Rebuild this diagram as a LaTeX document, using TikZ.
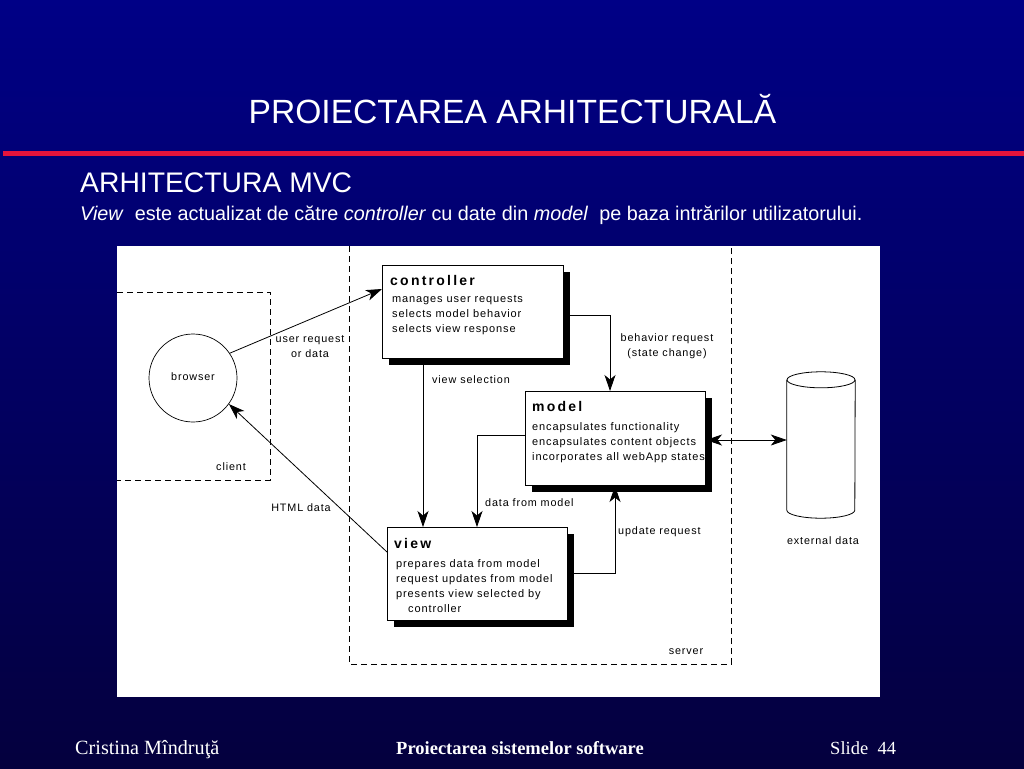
\documentclass[tikz,border=0pt]{standalone}
\usepackage{fontspec}
\setmainfont{Liberation Serif}
\newfontfamily\arial{Liberation Sans}
\newfontfamily\dg[LetterSpace=8]{Liberation Sans}
\newfontfamily\dgb[LetterSpace=16]{Liberation Sans Bold}
\usetikzlibrary{arrows.meta,calc,shadows}
\definecolor{navytop}{RGB}{0,0,134}
\definecolor{navybot}{RGB}{4,0,62}
\definecolor{redline}{RGB}{228,20,60}
\tikzset{
  mvcbox/.style={draw, fill=white, line width=1pt, anchor=north west, inner sep=0pt,
    drop shadow={shadow xshift=6pt, shadow yshift=-6pt, opacity=1, fill=black}},
  boxtitle/.style={anchor=west, inner sep=0pt, font=\fontsize{14}{15}\dgb},
  boxbody/.style={anchor=north west, inner sep=0pt, align=left, font=\fontsize{11}{15.2}\dg},
  lbl/.style={inner sep=0pt, font=\fontsize{10.8}{15}\dg, align=center},
  conn/.style={line width=0.8pt},
  tip/.tip={Stealth[length=16pt,width=11pt,inset=4.5pt]},
  arr/.style={conn, -tip},
  dashbox/.style={line width=1pt, dash pattern=on 6pt off 4pt},
}
\begin{document}
\begin{tikzpicture}[x=1pt,y=-1pt]
\useasboundingbox (0,0) rectangle (1024,768);
\shade[top color=navytop, bottom color=navybot] (0,0) rectangle (1024,768);
% header
\node[text=white, inner sep=0pt, anchor=base, font=\fontsize{33.6}{36}\arial] (title) at (512.5,123) {PROIECTAREA ARHITECTURALĂ};
\fill[redline] (3,150.5) rectangle (1024,156);
\node[text=white, inner sep=0pt, anchor=base west, font=\fontsize{28.3}{30}\arial] (sub) at (80,192) {ARHITECTURA MVC};
\node[text=white, inner sep=0pt, anchor=base west, font=\fontsize{19.8}{20}\arial] (desc) at (80,220)
  {\textit{View}\ \ este actualizat de către \textit{controller} cu date din \textit{model}\ \ pe baza intrărilor utilizatorului.};
% picture area
\fill[white] (117,246) rectangle (880,697);
% client region
\draw[dashbox] (117,292) -- (270,292) -- (270,480) -- (117,480);
\node[lbl, anchor=base] (clientlbl) at (231,470) {client};
% server region
\draw[dashbox] (349,246) -- (349,664) -- (731,664) -- (731,246);
\node[lbl, anchor=base] (serverlbl) at (686,654) {server};
% browser
\node[draw, circle, line width=0.7pt, minimum size=88pt, inner sep=0pt] (browser) at (193,378) {};
\node[lbl] (browserlbl) at (193,377) {browser};
% boxes
\node[mvcbox, minimum width=181pt, minimum height=93pt] (ctrl) at (382,265) {};
\node[boxtitle] (ctrlt) at (390,280.5) {controller};
\node[boxbody] (ctrlb) at (392,295) {manages user requests\\selects model behavior\\selects view response};
\node[mvcbox, minimum width=180pt, minimum height=94pt] (model) at (525,391) {};
\node[boxtitle] (modelt) at (532,406.5) {model};
\node[boxbody] (modelb) at (532,422) {encapsulates functionality\\encapsulates content objects\\incorporates all webApp states};
\node[mvcbox, minimum width=180pt, minimum height=93pt] (view) at (387,527) {};
\node[boxtitle] (viewt) at (394,543) {view};
\node[boxbody] (viewb) at (396,559) {prepares data from model\\request updates from model\\presents view selected by\\\hspace*{12pt}controller};
% external data
\node[inner sep=0pt, minimum width=68pt, minimum height=146pt] (ext) at (821,445) {};
\draw[line width=0.8pt, fill=white] (ext.north west) ++(0,8) -- ($(ext.south west)+(0,-8)$)
  arc[start angle=180, end angle=0, x radius=34, y radius=8] -- ($(ext.north east)+(0,8)$);
\draw[line width=0.8pt] ($(ext.north)+(0,8)$) ellipse[x radius=34, y radius=8];
\node[lbl, anchor=base] (extlbl) at (823,544) {external data};
% connectors
\draw[arr] (browser.34) -- ($(ctrl.north west)+(0,24)$);
\node[lbl] (urlbl) at (310,347) {user request\\or data};
\draw[arr] ($(view.north west)+(0,25)$) -- (browser.-36);
\node[lbl] (htmllbl) at (301,508) {HTML data};
\draw[arr] ($(ctrl.south west)+(41,0)$) -- ($(view.north west)+(36,0)$);
\node[lbl, anchor=west] (vslbl) at (432,380) {view selection};
\draw[arr] ($(ctrl.north east)+(0,50)$) -| ($(model.north west)+(85,0)$);
\node[lbl] (brlbl) at (667,346) {behavior request\\(state change)};
\draw[arr] ($(model.north west)+(0,44)$) -| ($(view.north west)+(90,0)$);
\node[lbl, anchor=west] (dfmlbl) at (485,503) {data from model};
\draw[arr] ($(view.north east)+(0,46)$) -| ($(model.south west)+(90,0)$);
\node[lbl, anchor=west] (urqlbl) at (618,532) {update request};
\draw[conn, tip-tip] (model.east |- 0,440) -- (ext.west |- 0,440);
% footer
\node[text=white, inner sep=0pt, anchor=base west, font=\fontsize{20.2}{22}\selectfont] (author) at (75,754) {Cristina Mîndruţă};
\node[text=white, inner sep=0pt, anchor=base, font=\fontsize{18.5}{20}\bfseries] (course) at (520,754) {Proiectarea sistemelor software};
\node[text=white, inner sep=0pt, anchor=base west, font=\fontsize{18.5}{20}\selectfont] (slide) at (830,754) {Slide\ \ 44};
\end{tikzpicture}
\end{document}
